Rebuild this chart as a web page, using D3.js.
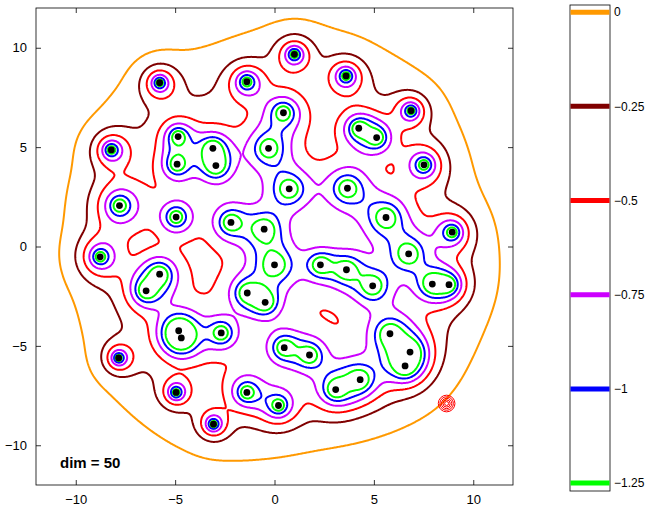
<!DOCTYPE html>
<meta charset="utf-8">
<style>
body { margin: 0; background: #fff; }
text { font-family: "Liberation Sans", Arial, sans-serif; }
</style>
<svg width="650" height="508" class="top"></svg>
<script src="https://d3js.org/d3.v7.min.js"></script>
<script>

// well centres
var px = [-5.78, -1.39, -8.21, -4.85, -4.9, -3.1, -2.95, -7.8, -4.95, -2.19,
          -8.77, 1.0, 3.6, 6.87, 0.45, 4.24, 5.14, -0.3, 7.52, 0.74,
          3.67, 5.61, 8.94, -0.52, 6.75, -5.78, -6.46, -1.37, -4.82, -4.69,
          -2.68, -7.84, -4.95, -3.07, -1.39, 0.0, 2.31, 3.62, 4.94, 7.94,
          8.78, -0.47, 5.81, 6.82, 6.57, 0.49, 1.76, 4.31, 3.08, 0.2];
var py = [8.24, 8.29, 4.86, 5.53, 4.14, 4.94, 4.07, 2.06, 1.48, 1.21,
          -0.52, 9.67, 8.58, 6.83, 6.73, 5.95, 5.48, 4.94, 4.11, 2.9,
          2.93, 1.46, 0.72, 0.87, -0.37, -1.39, -2.23, -2.34, -4.24, -4.6,
          -4.35, -5.61, -7.34, -8.94, -7.34, -0.92, -0.92, -1.17, -1.98, -1.89,
          -1.92, -2.81, -4.39, -5.31, -6.01, -5.09, -5.46, -6.7, -7.2, -8.0];
// relative width of each well, estimated from its ring sizes
var wellWidth = [1.0, 1.05, 1.05, 0.95, 0.95, 0.95, 0.95, 1.45, 1.0, 1.05,
                 1.25, 1.0, 1.0, 0.9, 1.2, 1.0, 1.0, 1.25, 1.15, 1.35,
                 1.4, 1.45, 1.1, 1.15, 1.25, 1.1, 1.1, 0.95, 1.12, 1.12,
                 0.9, 0.85, 0.75, 0.8, 1.05, 1.35, 0.9, 1.05, 1.1, 1.0,
                 1.0, 0.85, 1.2, 1.2, 1.2, 0.95, 1.0, 1.25, 1.25, 1.1];

var levels = [0, -0.25, -0.5, -0.75, -1, -1.25];
var levelColors = ["#ff9900", "#800000", "#ff0000", "#cc00ff", "#0000ff", "#00ff00"];
var xTicks = [-10, -5, 0, 5, 10];
var yTicks = [-10, -5, 0, 5, 10];

// artefact of concentric red rings near the lower right
var ringCentre = [8.66, -7.9];
var ringRadii = [0.1, 0.18, 0.26, 0.34, 0.42];

// field = base - bowl * sum exp(-r^2/2sigma^2) - amp * sum ln(1 + (R*w/r)^6)
var base = 0.2, bowl = 0.105, sigma = 2.5, amp = 0.087, R = 1.5;

var svg = d3.select(".top"),
    margin = {top: 8, left: 36},
    width = 477, height = 477;

var x = d3.scaleLinear().domain([-12, 12]).range([margin.left, margin.left + width]);
var y = d3.scaleLinear().domain([-12, 12]).range([margin.top + height, margin.top]);

var n = 480, step = 24 / n;
var values = new Float64Array(n * n);
var rw = wellWidth.map(function(w) { return Math.pow(R * w, 6); });
var s2 = 2 * sigma * sigma;
for (var j = 0; j < n; ++j) {
  var yy = 12 - (j + 0.5) * step;
  for (var i = 0; i < n; ++i) {
    var xx = -12 + (i + 0.5) * step, a = 0, b = 0;
    for (var k = 0; k < px.length; ++k) {
      var dx = xx - px[k], dy = yy - py[k];
      var r2 = dx * dx + dy * dy + 1e-9;
      a += Math.exp(-r2 / s2);
      b += Math.log(1 + rw[k] / (r2 * r2 * r2));
    }
    values[j * n + i] = -(base - bowl * a - amp * b);
  }
}

var contours = d3.contours()
    .size([n, n])
    .thresholds(levels.map(function(l) { return -l; }))(values);

var proj = d3.geoTransform({
  point: function(cx, cy) { this.stream.point(x(-12 + cx * step), y(12 - cy * step)); }
});
var path = d3.geoPath(proj);

svg.append("defs").append("clipPath").attr("id", "clip")
  .append("rect").attr("x", margin.left).attr("y", margin.top)
  .attr("width", width).attr("height", height);

var g = svg.append("g").attr("clip-path", "url(#clip)");

g.selectAll("path.level")
  .data(contours)
  .enter().append("path")
    .attr("class", "level")
    .attr("d", path)
    .attr("fill", "none")
    .attr("stroke", function(d, i) { return levelColors[i]; })
    .attr("stroke-width", 2);

g.selectAll("circle.ring")
  .data(ringRadii)
  .enter().append("circle")
    .attr("class", "ring")
    .attr("cx", x(ringCentre[0]))
    .attr("cy", y(ringCentre[1]))
    .attr("r", function(d) { return x(d) - x(0); })
    .attr("fill", "none")
    .attr("stroke", "#ff0000")
    .attr("stroke-width", 1);

g.selectAll("circle.dot")
  .data(px)
  .enter().append("circle")
    .attr("class", "dot")
    .attr("cx", function(d) { return x(d); })
    .attr("cy", function(d, i) { return y(py[i]); })
    .attr("r", 3.4)
    .attr("fill", "#000");

// axes box with inward ticks
var fmt = function(d) { return d < 0 ? "\u2212" + Math.abs(d) : d; };

svg.append("rect")
    .attr("x", margin.left).attr("y", margin.top)
    .attr("width", width).attr("height", height)
    .attr("fill", "none").attr("stroke", "#000").attr("stroke-width", 0.8);

svg.append("g").attr("transform", "translate(0," + (margin.top + height) + ")")
    .call(d3.axisBottom(x).tickValues(xTicks).tickSizeInner(-5).tickSizeOuter(0).tickPadding(10).tickFormat(fmt));
svg.append("g").attr("transform", "translate(0," + margin.top + ")")
    .call(d3.axisTop(x).tickValues(xTicks).tickSizeInner(-5).tickSizeOuter(0).tickFormat(""));
svg.append("g").attr("transform", "translate(" + margin.left + ",0)")
    .call(d3.axisLeft(y).tickValues(yTicks).tickSizeInner(-5).tickSizeOuter(0).tickPadding(9).tickFormat(fmt));
svg.append("g").attr("transform", "translate(" + (margin.left + width) + ",0)")
    .call(d3.axisRight(y).tickValues(yTicks).tickSizeInner(-5).tickSizeOuter(0).tickFormat(""));

svg.selectAll(".domain").remove();
svg.selectAll(".tick line").attr("stroke", "#000").attr("stroke-width", 0.8);
svg.selectAll(".tick text")
    .style("font-family", "'Liberation Sans', Arial, sans-serif")
    .style("font-size", "13px").attr("fill", "#000");

svg.append("text")
    .attr("x", 60).attr("y", 468)
    .style("font-size", "15px").style("font-weight", "bold")
    .text("dim = 50");

// colour bar
var cb = d3.scaleLinear().domain([-1.271, 0.019]).range([491, 5]);
var cbx = 570, cbw = 40;

svg.append("rect")
    .attr("x", cbx).attr("y", cb(0.019))
    .attr("width", cbw).attr("height", cb(-1.271) - cb(0.019))
    .attr("fill", "#fff").attr("stroke", "#000").attr("stroke-width", 0.8);

svg.selectAll("line.cb")
  .data(levels)
  .enter().append("line")
    .attr("class", "cb")
    .attr("x1", cbx + 0.5).attr("x2", cbx + cbw - 0.5)
    .attr("y1", function(d) { return cb(d); })
    .attr("y2", function(d) { return cb(d); })
    .attr("stroke", function(d, i) { return levelColors[i]; })
    .attr("stroke-width", 5);

svg.selectAll("text.cb")
  .data(levels)
  .enter().append("text")
    .attr("class", "cb")
    .attr("x", cbx + cbw + 4)
    .attr("y", function(d) { return cb(d); })
    .attr("dy", "0.35em")
    .style("font-size", "12px")
    .text(fmt);

</script>
